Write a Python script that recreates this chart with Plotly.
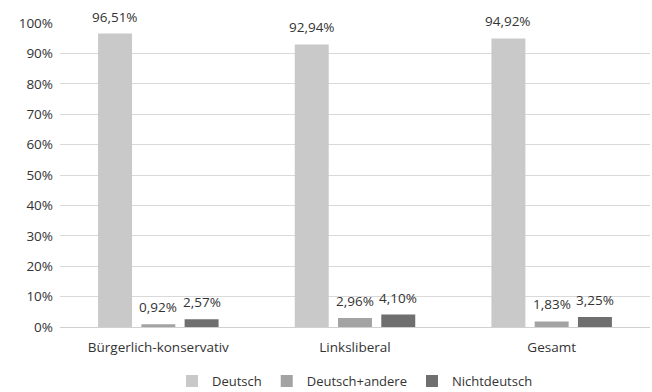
import plotly.graph_objects as go

categories = ["Bürgerlich-konservativ", "Linksliberal", "Gesamt"]
series_names = ["Deutsch", "Deutsch+andere", "Nichtdeutsch"]
deutsch = [0.9651, 0.9294, 0.9492]
deutsch_andere = [0.0092, 0.0296, 0.0183]
nichtdeutsch = [0.0257, 0.0410, 0.0325]
colors = ["#c9c9c9", "#a3a3a3", "#6f6f6f"]
y_ticks = [0, 0.1, 0.2, 0.3, 0.4, 0.5, 0.6, 0.7, 0.8, 0.9, 1.0]

W, H = 652, 392
ML, MR, MT, MB = 60, 2, 23, 65
BARGAP = 0.34
TXT = "#333333"
plot_w = W - ML - MR
cat_w = plot_w / len(categories)
slot_w = cat_w * (1 - BARGAP) / len(series_names)

fig = go.Figure()
all_series = [deutsch, deutsch_andere, nichtdeutsch]
for name, vals, col in zip(series_names, all_series, colors):
    fig.add_trace(go.Bar(
        x=categories, y=vals, name=name,
        marker=dict(color=col, line=dict(width=0)),
        cliponaxis=False,
    ))

annotations = []
for i, vals in enumerate(all_series):
    for cat, v in zip(categories, vals):
        label = f"{v*100:.2f}%".replace(".", ",")
        annotations.append(dict(
            x=cat, y=v, xref="x", yref="y", text=label, showarrow=False,
            xanchor="center", yanchor="bottom", xshift=(i - 1) * slot_w, yshift=6,
            font=dict(size=13.5, color=TXT),
        ))

fig.update_layout(
    width=W, height=H,
    margin=dict(l=ML, r=MR, t=MT, b=MB, autoexpand=False),
    paper_bgcolor="white", plot_bgcolor="white",
    separators=",.",
    barmode="group", bargap=BARGAP, bargroupgap=0.215,
    font=dict(family="Open Sans, Liberation Sans, sans-serif", size=13, color=TXT),
    showlegend=True,
    legend=dict(orientation="h", x=0.5, xanchor="center", y=0.028, yanchor="middle",
                yref="container",
                font=dict(size=13, color=TXT), itemwidth=30, traceorder="normal"),
    xaxis=dict(showgrid=False, showline=True, linecolor="#d0d0d0", linewidth=1,
               tickfont=dict(size=13.5, color=TXT), ticks="",
               ticklabelstandoff=8, automargin=False),
    yaxis=dict(range=[0, 1.0], tickvals=y_ticks, tickformat=".0%",
               showgrid=True, gridcolor="#d9d9d9", gridwidth=1,
               zeroline=False, showline=False, automargin=False,
               tickfont=dict(size=13.5, color=TXT), ticklabelstandoff=6),
    annotations=annotations,
)

fig.write_html("out.html")
